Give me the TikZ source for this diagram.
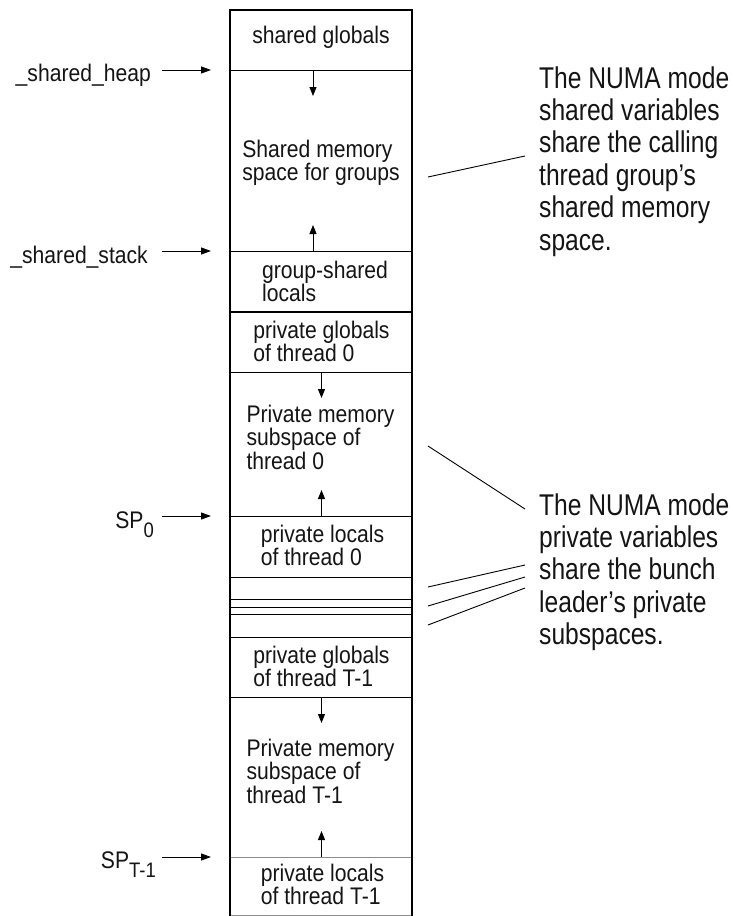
\documentclass[tikz,border=0pt]{standalone}
\usepackage{fontspec}
\setmainfont{Liberation Sans}[FakeStretch=0.88]
\newfontfamily\notefont{Liberation Sans}[FakeStretch=0.82]
\usetikzlibrary{arrows.meta}
\begin{document}
\begin{tikzpicture}[x=1pt,y=-1pt,
  rowbox/.style={draw, line width=1pt, minimum width=182pt, inner sep=0pt, outer sep=0pt},
  cell/.style={font=\fontsize{24}{23.5}\selectfont, align=left, inner sep=0pt, anchor=base, text=black!92},
  note/.style={font=\notefont\fontsize{30}{32.4}\selectfont, align=left, inner sep=0pt, anchor=base west, text=black!92},
  lbl/.style={font=\fontsize{24}{24}\selectfont, inner sep=0pt, anchor=base east, text=black!92},
  ptr/.style={-{Triangle[length=10pt,width=7pt]}, line width=1pt},
  growarrow/.style={-{Triangle[length=9pt,width=7pt]}, line width=0.9pt},
  leader/.style={line width=0.9pt}]
\useasboundingbox (0,0) rectangle (732,916);

% memory rows
\node[rowbox, minimum height=60pt]  (r1)  at (321,40)    {};
\node[rowbox, minimum height=181pt] (r2)  at (321,160.5) {};
\node[rowbox, minimum height=61pt]  (r3)  at (321,281.5) {};
\node[rowbox, minimum height=60pt]  (r4)  at (321,342)   {};
\node[rowbox, minimum height=144pt] (r5)  at (321,444)   {};
\node[rowbox, minimum height=61pt]  (r6)  at (321,546.5) {};
\node[rowbox, minimum height=22pt]  (r7)  at (321,588)   {};
\node[rowbox, minimum height=8pt]   (r8)  at (321,603)   {};
\node[rowbox, minimum height=7pt]   (r9)  at (321,610.5) {};
\node[rowbox, minimum height=23pt]  (r10) at (321,625.5) {};
\node[rowbox, minimum height=60pt]  (r11) at (321,667)   {};
\node[rowbox, minimum height=160pt] (r12) at (321,777)   {};
\node[rowbox, minimum height=58pt, draw=black!45]  (r13) at (321,886)   {};

% heavy frame
\draw[line width=2.2pt] (230,916) -- (230,10);
\draw[line width=1.9pt] (412,916) -- (412,10);
\draw[line width=1.5pt] (229,10) -- (413,10);
\draw[line width=2.5pt] (230,312) -- (412,312);

% cell texts (anchored at the baseline of their last line)
\node[cell] (t1)  at (321,43)     {shared globals};
\node[cell] (t2)  at (321,180.5)  {Shared memory\\space for groups};
\node[cell] (t3)  at (325,301.5)  {group-shared\\locals};
\node[cell] (t4)  at (321.5,361.5) {private globals\\of thread 0};
\node[cell] (t5)  at (320.5,469)  {Private memory\\subspace of\\thread 0};
\node[cell] (t6)  at (322.5,565.5) {private locals\\of thread 0};
\node[cell] (t11) at (321.5,686.5) {private globals\\of thread T-1};
\node[cell] (t12) at (320.5,803)  {Private memory\\subspace of\\thread T-1};
\node[cell] (t13) at (322.5,904.5) {private locals\\of thread T-1};

% growth arrows
\coordinate (g1a) at (313,70);   \coordinate (g1b) at (313,96);
\coordinate (g2a) at (313,251);  \coordinate (g2b) at (313,225);
\coordinate (g3a) at (321.5,372); \coordinate (g3b) at (321.5,398);
\coordinate (g4a) at (321.5,516); \coordinate (g4b) at (321.5,490);
\coordinate (g5a) at (321.5,697); \coordinate (g5b) at (321.5,723);
\coordinate (g6a) at (321.5,857); \coordinate (g6b) at (321.5,831);
\draw[growarrow] (g1a) -- (g1b);
\draw[growarrow] (g2a) -- (g2b);
\draw[growarrow] (g3a) -- (g3b);
\draw[growarrow] (g4a) -- (g4b);
\draw[growarrow] (g5a) -- (g5b);
\draw[growarrow] (g6a) -- (g6b);

% pointer labels
\node[lbl] (heap)  at (151,81)  {\_shared\_heap};
\node[lbl] (stack) at (148,263) {\_shared\_stack};
\node[lbl] (sp0)   at (154,528) {SP{\fontsize{21}{21}\selectfont\raisebox{-9pt}{0}}};
\node[lbl] (spt)   at (156,868) {SP{\fontsize{21}{21}\selectfont\raisebox{-9pt}{T-1}}};
\coordinate (p1a) at (162,70);  \coordinate (p1b) at (211,70);
\coordinate (p2a) at (162,251); \coordinate (p2b) at (211,251);
\coordinate (p3a) at (162,516); \coordinate (p3b) at (211,516);
\coordinate (p4a) at (162,857); \coordinate (p4b) at (211,857);
\draw[ptr] (p1a) -- (p1b);
\draw[ptr] (p2a) -- (p2b);
\draw[ptr] (p3a) -- (p3b);
\draw[ptr] (p4a) -- (p4b);

% notes (anchored at the baseline of their last line)
\node[note] (n1) at (539,250) {The NUMA mode\\shared variables\\share the calling\\thread group’s\\shared memory\\space.};
\node[note] (n2) at (539,644.6) {The NUMA mode\\private variables\\share the bunch\\leader’s private\\subspaces.};

% leader lines
\coordinate (l1a) at (428,177); \coordinate (l1b) at (525,156);
\coordinate (l2a) at (428,446); \coordinate (l2b) at (525,509);
\coordinate (l3a) at (428,587); \coordinate (l3b) at (525,565);
\coordinate (l4a) at (428,606); \coordinate (l4b) at (525,577);
\coordinate (l5a) at (428,625); \coordinate (l5b) at (525,588);
\draw[leader] (l1a) -- (l1b);
\draw[leader] (l2a) -- (l2b);
\draw[leader] (l3a) -- (l3b);
\draw[leader] (l4a) -- (l4b);
\draw[leader] (l5a) -- (l5b);
\end{tikzpicture}
\end{document}
